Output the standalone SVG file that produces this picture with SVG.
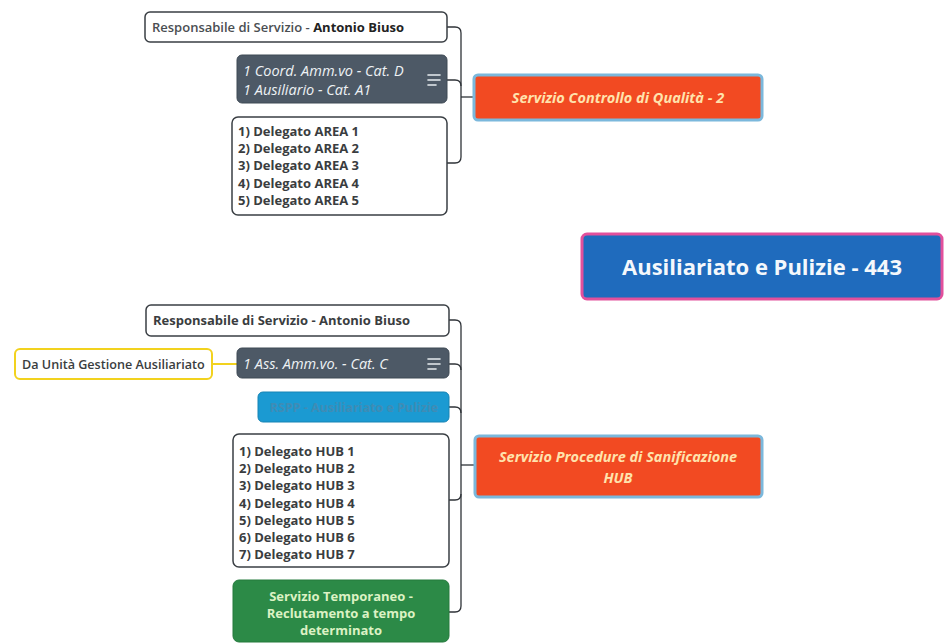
<svg xmlns="http://www.w3.org/2000/svg" width="945" height="644" viewBox="0 0 945 644">
<style>
text{font-family:"Open Sans","Liberation Sans",sans-serif;}
.wbox{fill:#ffffff;stroke:#3a3f44;stroke-width:1.5;}
.dbox{fill:#4d5966;stroke:#3f4a55;stroke-width:1;}
.bbox{fill:#1b9ad2;stroke:#1784b5;stroke-width:1;}
.gbox{fill:#2c8a47;stroke:#257a3d;stroke-width:1;}
.rbox{fill:#f24a22;stroke:#7bb8dc;stroke-width:3;}
.cbox{fill:#1f6bbd;stroke:#e2509c;stroke-width:3;}
.ybox{fill:#ffffff;stroke:#f2d21e;stroke-width:2;}
.wt{font-size:13px;font-weight:700;fill:#3a3d40;}
.dt{font-size:14.5px;font-style:italic;fill:#eef2f5;}
.rt{font-size:14.5px;font-style:italic;font-weight:700;fill:#ffe3ad;}
.gt{font-size:13px;font-weight:700;fill:#dcf2c4;}
.conn{fill:none;stroke:#2f3338;stroke-width:1.3;}
.icon{stroke:#e6ecf0;stroke-width:1.6;stroke-linecap:round;}
</style>

<g id="connectors">
  <path class="conn" d="M447,27 H455 Q461,27 461,33 V157 Q461,163 455,163 H447"/>
  <path class="conn" d="M447,80 H455 Q461,80 461,86"/>
  <path class="conn" d="M461,97 H474"/>
  <path class="conn" d="M449,320 H455 Q461,320 461,326 V606 Q461,612 455,612 H449"/>
  <path class="conn" d="M449,364 H455 Q461,364 461,370"/>
  <path class="conn" d="M449,407 H455 Q461,407 461,413"/>
  <path class="conn" d="M449,500 H455 Q461,500 461,494"/>
  <path class="conn" d="M461,465 H475"/>
  <path d="M212,364 H237" fill="none" stroke="#f2d21e" stroke-width="2"/>
</g>

<g id="central">
  <rect class="cbox" x="582" y="234" width="360" height="65" rx="5"/>
  <text x="762" y="275" text-anchor="middle" font-size="22" font-weight="700" fill="#f4f8fc">Ausiliariato e Pulizie - 443</text>
</g>

<g id="controllo-qualita">
  <rect class="rbox" x="474" y="75" width="288" height="45" rx="4"/>
  <text class="rt" x="618" y="103" text-anchor="middle">Servizio Controllo di Qualità - 2</text>
</g>

<g id="resp-top">
  <rect class="wbox" x="145" y="12" width="302" height="30" rx="5"/>
  <text class="wt" x="152" y="32"><tspan fill="#4a4e52" font-weight="600">Responsabile di Servizio - </tspan><tspan fill="#222">Antonio Biuso</tspan></text>
</g>

<g id="coord-top">
  <rect class="dbox" x="237" y="55" width="210" height="48" rx="5"/>
  <text class="dt" x="243" y="76">1 Coord. Amm.vo - Cat. D</text>
  <text class="dt" x="243" y="95">1 Ausiliario - Cat. A1</text>
  <line class="icon" x1="428" y1="75" x2="440" y2="75"/>
  <line class="icon" x1="428" y1="80" x2="440" y2="80"/>
  <line class="icon" x1="428" y1="85" x2="436" y2="85"/>
</g>

<g id="delegati-area">
  <rect class="wbox" x="232" y="117" width="215" height="98" rx="6"/>
  <text class="wt" x="238" y="136">1) Delegato AREA 1</text>
  <text class="wt" x="238" y="153">2) Delegato AREA 2</text>
  <text class="wt" x="238" y="170">3) Delegato AREA 3</text>
  <text class="wt" x="238" y="188">4) Delegato AREA 4</text>
  <text class="wt" x="238" y="205">5) Delegato AREA 5</text>
</g>

<g id="sanificazione-hub">
  <rect class="rbox" x="475" y="436" width="287" height="61" rx="4"/>
  <text class="rt" x="618" y="462" text-anchor="middle">Servizio Procedure di Sanificazione</text>
  <text class="rt" x="618" y="483" text-anchor="middle">HUB</text>
</g>

<g id="resp-bottom">
  <rect class="wbox" x="146" y="305" width="303" height="31" rx="5"/>
  <text class="wt" x="153" y="325">Responsabile di Servizio - Antonio Biuso</text>
</g>

<g id="da-unita">
  <rect class="ybox" x="15" y="349" width="197" height="30" rx="5"/>
  <text x="22" y="369" font-size="12.6" font-weight="600" fill="#3a3d40">Da Unità Gestione Ausiliariato</text>
</g>

<g id="ass-amm">
  <rect class="dbox" x="237" y="348" width="212" height="30" rx="5"/>
  <text class="dt" x="243" y="369">1 Ass. Amm.vo. - Cat. C</text>
  <line class="icon" x1="428" y1="359" x2="440" y2="359"/>
  <line class="icon" x1="428" y1="364" x2="440" y2="364"/>
  <line class="icon" x1="428" y1="369" x2="436" y2="369"/>
</g>

<g id="rspp">
  <rect class="bbox" x="258" y="392" width="191" height="30" rx="5"/>
  <text x="354" y="412" text-anchor="middle" font-size="12.5" font-weight="700" fill="#3f8cb5">RSPP - Ausiliariato e Pulizie</text>
</g>

<g id="delegati-hub">
  <rect class="wbox" x="233" y="434" width="216" height="133" rx="6"/>
  <text class="wt" x="239" y="456">1) Delegato HUB 1</text>
  <text class="wt" x="239" y="473">2) Delegato HUB 2</text>
  <text class="wt" x="239" y="490">3) Delegato HUB 3</text>
  <text class="wt" x="239" y="508">4) Delegato HUB 4</text>
  <text class="wt" x="239" y="525">5) Delegato HUB 5</text>
  <text class="wt" x="239" y="542">6) Delegato HUB 6</text>
  <text class="wt" x="239" y="559">7) Delegato HUB 7</text>
</g>

<g id="temporaneo">
  <rect class="gbox" x="233" y="580" width="216" height="62" rx="6"/>
  <text class="gt" x="341" y="601" text-anchor="middle">Servizio Temporaneo -</text>
  <text class="gt" x="341" y="618" text-anchor="middle">Reclutamento a tempo</text>
  <text class="gt" x="341" y="635" text-anchor="middle">determinato</text>
</g>
</svg>
